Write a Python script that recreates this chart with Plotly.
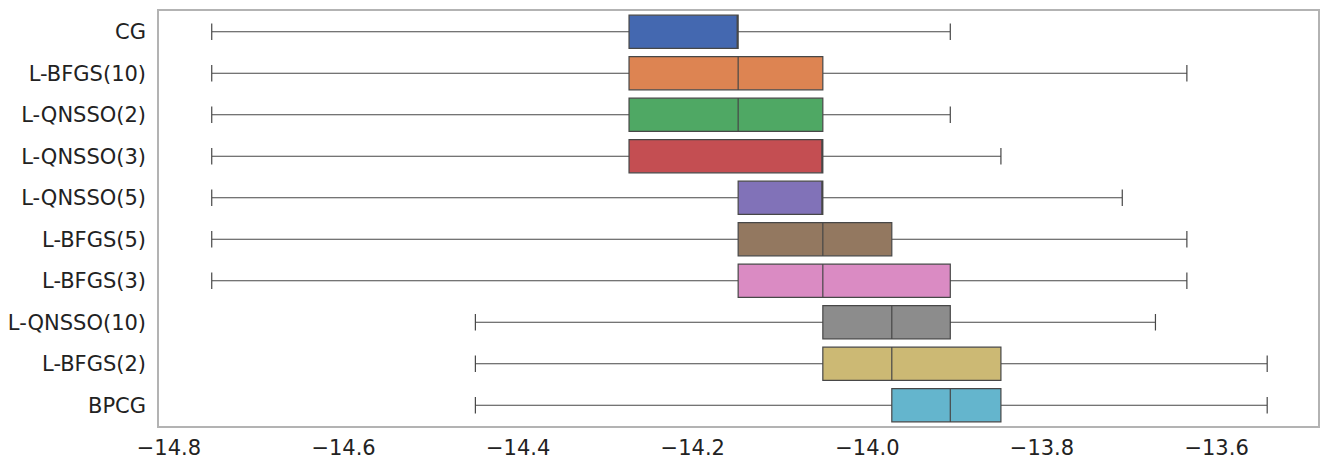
import plotly.graph_objects as go

# Solvers, listed top to bottom
methods = ["CG", "L-BFGS(10)", "L-QNSSO(2)", "L-QNSSO(3)", "L-QNSSO(5)",
           "L-BFGS(5)", "L-BFGS(3)", "L-QNSSO(10)", "L-BFGS(2)", "BPCG"]

# Box statistics (log10 of the final error)
lower_whisker = [-14.751, -14.751, -14.751, -14.751, -14.751,
                 -14.751, -14.751, -14.449, -14.449, -14.449]
q1 = [-14.273, -14.273, -14.273, -14.273, -14.148,
      -14.148, -14.148, -14.051, -14.051, -13.972]
median = [-14.148, -14.148, -14.148, -14.051, -14.051,
          -14.051, -14.051, -13.972, -13.972, -13.905]
q3 = [-14.148, -14.051, -14.051, -14.051, -14.051,
      -13.972, -13.905, -13.905, -13.847, -13.847]
upper_whisker = [-13.905, -13.634, -13.905, -13.847, -13.708,
                 -13.634, -13.634, -13.670, -13.542, -13.542]

colors = ["#4468b0", "#dd8452", "#4fa864", "#c44e52", "#8172b8",
          "#937860", "#da8bc3", "#8c8c8c", "#ccb974", "#64b5cd"]

x_ticks = [-14.8, -14.6, -14.4, -14.2, -14.0, -13.8, -13.6]

fig = go.Figure()
for i, name in enumerate(methods):
    fig.add_trace(go.Box(
        y=[name],
        q1=[q1[i]], median=[median[i]], q3=[q3[i]],
        lowerfence=[lower_whisker[i]], upperfence=[upper_whisker[i]],
        orientation="h",
        fillcolor=colors[i],
        line=dict(color="#474747", width=1.2),
        width=0.8,
        whiskerwidth=0.5,
        boxpoints=False,
        showlegend=False,
        hoverinfo="skip",
    ))

font = dict(family="DejaVu Sans", size=21, color="#222222")

fig.update_layout(
    width=1328, height=468,
    margin=dict(l=157, r=8, t=11, b=31),
    paper_bgcolor="white", plot_bgcolor="white",
    boxmode="overlay",
    font=font,
    xaxis=dict(
        range=[-14.8114, -13.4838],
        tickvals=x_ticks,
        ticktext=["\u2212" + f"{abs(v):.1f}" for v in x_ticks],
        showgrid=False, zeroline=False,
        showline=True, mirror=True, linecolor="#b3b3b3", linewidth=1.5,
        ticks="outside", ticklen=2, tickcolor="rgba(0,0,0,0)",
        tickfont=font,
    ),
    yaxis=dict(
        categoryorder="array", categoryarray=methods,
        range=[9.5, -0.5],
        showgrid=False, zeroline=False,
        showline=True, mirror=True, linecolor="#b3b3b3", linewidth=1.5,
        ticks="outside", ticklen=7, tickcolor="rgba(0,0,0,0)",
        tickfont=font,
    ),
)

fig.write_html("out.html")
